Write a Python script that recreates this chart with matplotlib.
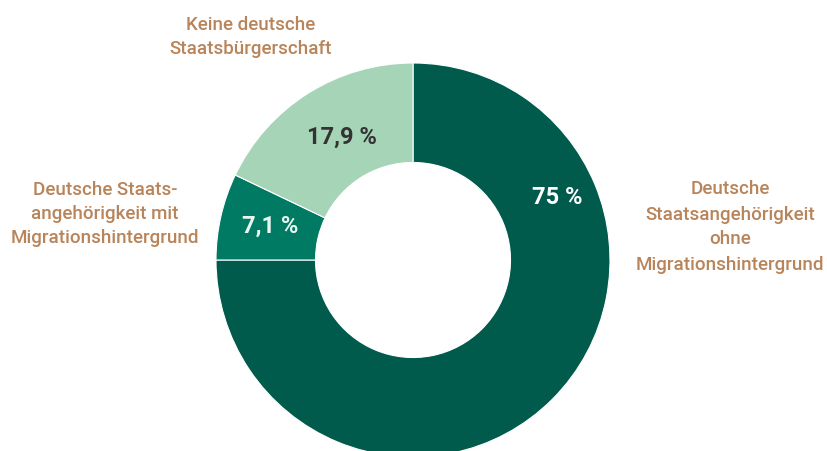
import matplotlib
matplotlib.use("Agg")
import matplotlib.pyplot as plt

categories = ["Deutsche\nStaatsangehörigkeit\nohne\nMigrationshintergrund",
              "Deutsche Staats-\nangehörigkeit mit\nMigrationshintergrund",
              "Keine deutsche\nStaatsbürgerschaft"]
values = [75, 7.1, 17.9]
value_labels = ["75 %", "7,1 %", "17,9 %"]
colors = ["#005B4C", "#007A62", "#A5D4B6"]
value_colors = ["#FFFFFF", "#EAF6EF", "#333333"]

W, H = 827, 451
fig = plt.figure(figsize=(W / 100, H / 100), dpi=100)
ax = fig.add_axes([0, 0, 1, 1])

cx, cy, r = 413, H - 260, 197
ax.pie(values, colors=colors, startangle=90, counterclock=False,
       center=(cx, cy), radius=r, frame=True,
       wedgeprops=dict(width=r * 0.505, edgecolor="white", linewidth=0.8))
ax.set_xlim(0, W)
ax.set_ylim(0, H)
ax.set_aspect("equal")
ax.axis("off")

font = "Roboto"
brown = "#B8845A"
cat_pos = [(730, H - 227), (105, H - 214), (251, H - 37)]
spacings = [1.5, 1.45, 1.45]
for (x, y), t, ls in zip(cat_pos, categories, spacings):
    ax.text(x, y, t, ha="center", va="center", fontsize=13.5, color=brown,
            family=font, fontweight="medium", linespacing=ls)

val_pos = [(557, H - 197), (270, H - 226), (342, H - 137)]
for (x, y), t, c in zip(val_pos, value_labels, value_colors):
    ax.text(x, y, t, ha="center", va="center", fontsize=17, color=c,
            family=font, fontweight="bold")

fig.savefig("out.png", dpi=100, facecolor="white")
